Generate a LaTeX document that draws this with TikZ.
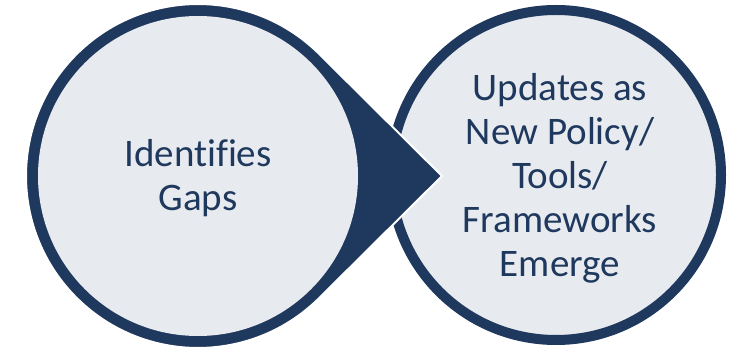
\documentclass[tikz,border=0pt]{standalone}
\usepackage{fontspec}
\setmainfont{Carlito}[Ligatures=NoCommon]
\usetikzlibrary{calc}
\definecolor{navy}{RGB}{31,56,93}
\definecolor{pale}{RGB}{231,234,238}

\begin{document}
\begin{tikzpicture}[x=1pt, y=1pt,
every node/.style = {align=center, text=navy,
    font=\fontsize{39}{44}\selectfont},
bubble/.style = {shape=circle, fill=pale, inner sep=0pt}]
\useasboundingbox (0,0) rectangle (735,348);
% right circle with its rim
\node [bubble, draw=navy, line width=10pt, minimum size=330pt] (update) at (556,173) {};
\node (updatelabel) at ([shift={(4,-3)}]update.center)
    {Updates as\\ New Policy/\\ Tools/\\ Frameworks\\ Emerge};
% pointed rim of the left circle
\coordinate (centre) at (198,172);
\coordinate (tip) at (442,172);
\fill [navy, draw=white, line width=2pt] (tip) -- ($(centre)+(45.5:172)$)
    arc [start angle=45.5, end angle=314.5, radius=172] -- cycle;
\node [bubble, minimum size=320pt] (gaps) at (centre) {};
\node (gapslabel) at ([shift={(0,-2)}]gaps.center) {Identifies\\ Gaps};
\end{tikzpicture}
\end{document}
